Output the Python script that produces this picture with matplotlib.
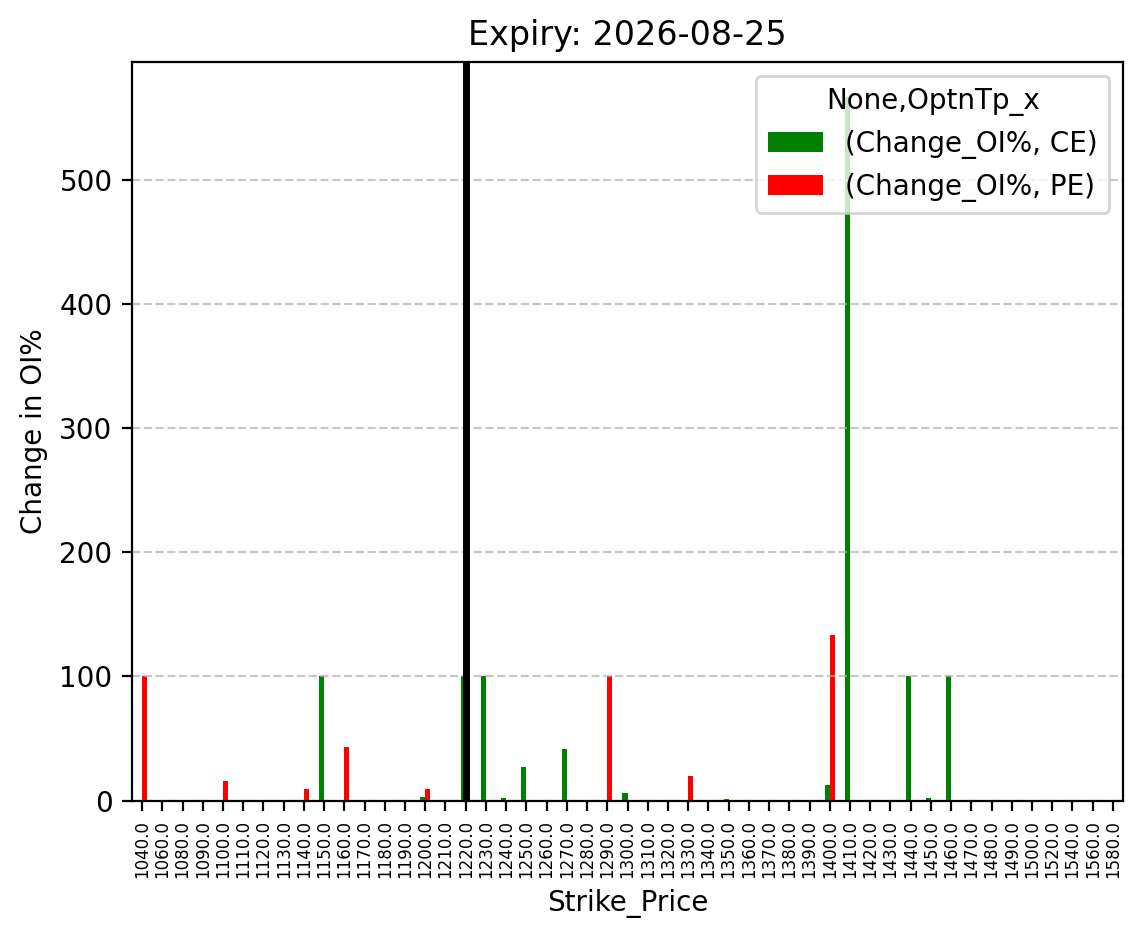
import numpy as np
import matplotlib
matplotlib.use("Agg")
import matplotlib.pyplot as plt

# strike prices (x categories)
strikes = [1040, 1060, 1080, 1090, 1100, 1110, 1120, 1130, 1140, 1150,
           1160, 1170, 1180, 1190, 1200, 1210, 1220, 1230, 1240, 1250,
           1260, 1270, 1280, 1290, 1300, 1310, 1320, 1330, 1340, 1350,
           1360, 1370, 1380, 1390, 1400, 1410, 1420, 1430, 1440, 1450,
           1460, 1470, 1480, 1490, 1500, 1520, 1540, 1560, 1580]

# change in OI% for calls
ce_change = [0, 0, 0, 0, 0, 0, 0, 0, 0, 100,
             0, 0, 0, 0, 2.7, 0, 100, 100, 1.9, 26.8,
             0, 41.4, 0, 0, 5.7, 0, 0, 0, 0, 1.6,
             0, 0, 0, 0, 12.2, 566.7, 0, 0, 100, 2.4,
             100, 0, 0, 0, 0, 0, 0, 0, 0]

# change in OI% for puts
pe_change = [100, 0, 0, 0, 15.4, 0, 0, 0, 9.0, 0,
             43.0, 0, 0, 0, 9.0, 0, 0, 0, 0.8, 0,
             0, 0, 0, 100, 0, 0, 0, 19.5, 0, 0,
             0, 0, 0, 0, 133.3, 0, 0, 0, 0, 0,
             0, 0, 0, 0, 0, 0, 0, 0, 0]

spot_strike = 1220
expiry = "2026-08-25"

fig = plt.figure(figsize=(1143 / 200, 939 / 200), dpi=200)
ax = fig.add_axes([132 / 1143, 1 - 800.5 / 939, 991 / 1143, 738.5 / 939])

x = np.arange(len(strikes))
w = 0.25
ax.bar(x - w / 2, ce_change, w, color="green", label="(Change_OI%, CE)")
ax.bar(x + w / 2, pe_change, w, color="red", label="(Change_OI%, PE)")

ax.set_xticks(x)
ax.set_xticklabels(["%.1f" % s for s in strikes], rotation=90, fontsize=6)
ax.set_xlim(-0.5, len(strikes) - 0.5)
ax.set_ylim(0, max(max(ce_change), max(pe_change)) * 1.05)

# current price marker
ax.axvline(strikes.index(spot_strike), color="black", linewidth=2.5)

ax.grid(axis="y", linestyle="--", alpha=0.7)
ax.legend(title="None,OptnTp_x", loc="upper right")
ax.set_title("Expiry: " + expiry)
ax.set_xlabel("Strike_Price")
ax.set_ylabel("Change in OI%")

fig.savefig("out.png", dpi=200)
